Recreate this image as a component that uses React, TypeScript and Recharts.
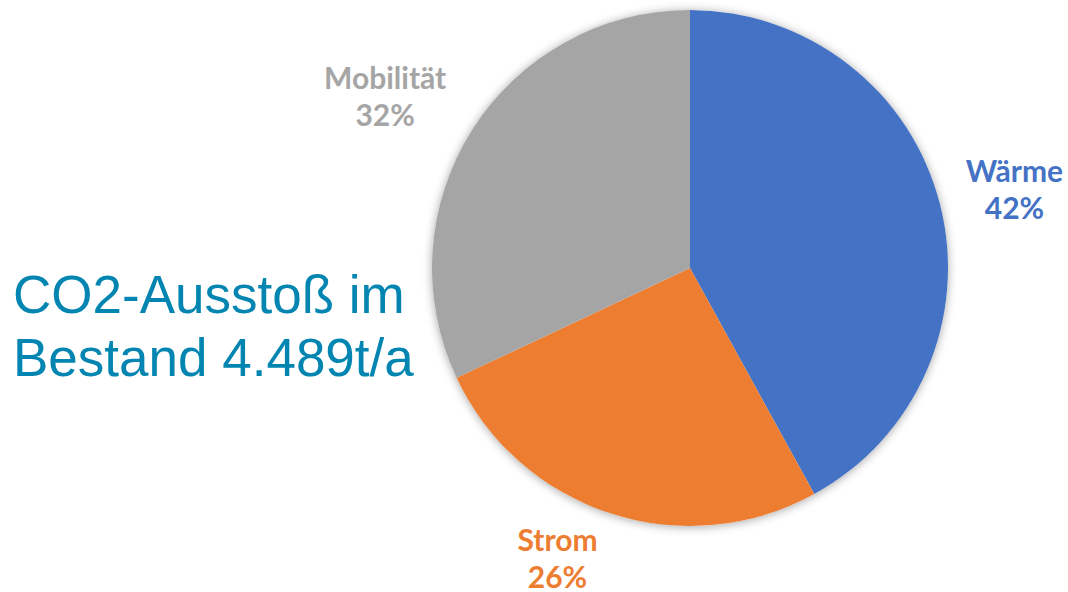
import React from "react";
import { PieChart, Pie, Cell } from "recharts";

const categories = ["Wärme", "Strom", "Mobilität"];
const shares = [42, 26, 32];
const colors = ["#4472C4", "#ED7D31", "#A5A5A5"];
const titleLines = ["CO2-Ausstoß im", "Bestand 4.489t/a"];

// label placement style tweaks (best-fit style, relative nudges in px)
const labelNudgeX = [0, -29, -22];
const labelNudgeY = [0, -3, -4];

const data = categories.map((name, i) => ({ name, value: shares[i] }));
const total = [{ name: "total", value: shares.reduce((a, b) => a + b, 0) }];

const RAD = Math.PI / 180;

const renderLabel = (props: any) => {
  const { cx, cy, midAngle, index, payload } = props;
  const rx = 335;
  const ry = 310;
  const x = cx + rx * Math.cos(-midAngle * RAD) + labelNudgeX[index];
  const y = cy + ry * Math.sin(-midAngle * RAD) + labelNudgeY[index];
  const fill = colors[index];
  return (
    <text
      x={x}
      y={y}
      textAnchor="middle"
      fill={fill}
      fontFamily="Lato, 'Open Sans', sans-serif"
      fontWeight={700}
      fontSize={30}
    >
      <tspan x={x} y={y - 9}>{payload.name}</tspan>
      <tspan x={x} y={y + 28}>{`${payload.value}%`}</tspan>
    </text>
  );
};

export default function App() {
  return (
    <div style={{ position: "fixed", left: 0, top: 0, width: 1068, height: 592, background: "#fff" }}>
      <PieChart width={1068} height={592} margin={{ top: 0, right: 0, bottom: 0, left: 0 }}>
        <Pie
          data={total}
          dataKey="value"
          cx={690}
          cy={268}
          outerRadius={258}
          startAngle={90}
          endAngle={-270}
          isAnimationActive={false}
          stroke="none"
        >
          <Cell fill="#ffffff" style={{ filter: "drop-shadow(0px 1px 5px rgba(0,0,0,0.35))" }} />
        </Pie>
        <Pie
          data={data}
          dataKey="value"
          nameKey="name"
          cx={690}
          cy={268}
          outerRadius={258}
          startAngle={90}
          endAngle={-270}
          isAnimationActive={false}
          stroke="none"
          labelLine={false}
          label={renderLabel}
        >
          {data.map((d, i) => (
            <Cell key={d.name} fill={colors[i]} />
          ))}
        </Pie>
      </PieChart>
      <div
        style={{
          position: "absolute",
          left: 13,
          top: 263,
          fontFamily: "'Liberation Sans', Arial, sans-serif",
          fontSize: 53,
          lineHeight: "63px",
          color: "#0385b1",
          whiteSpace: "nowrap",
        }}
      >
        {titleLines.map((l) => (
          <div key={l}>{l}</div>
        ))}
      </div>
    </div>
  );
}
